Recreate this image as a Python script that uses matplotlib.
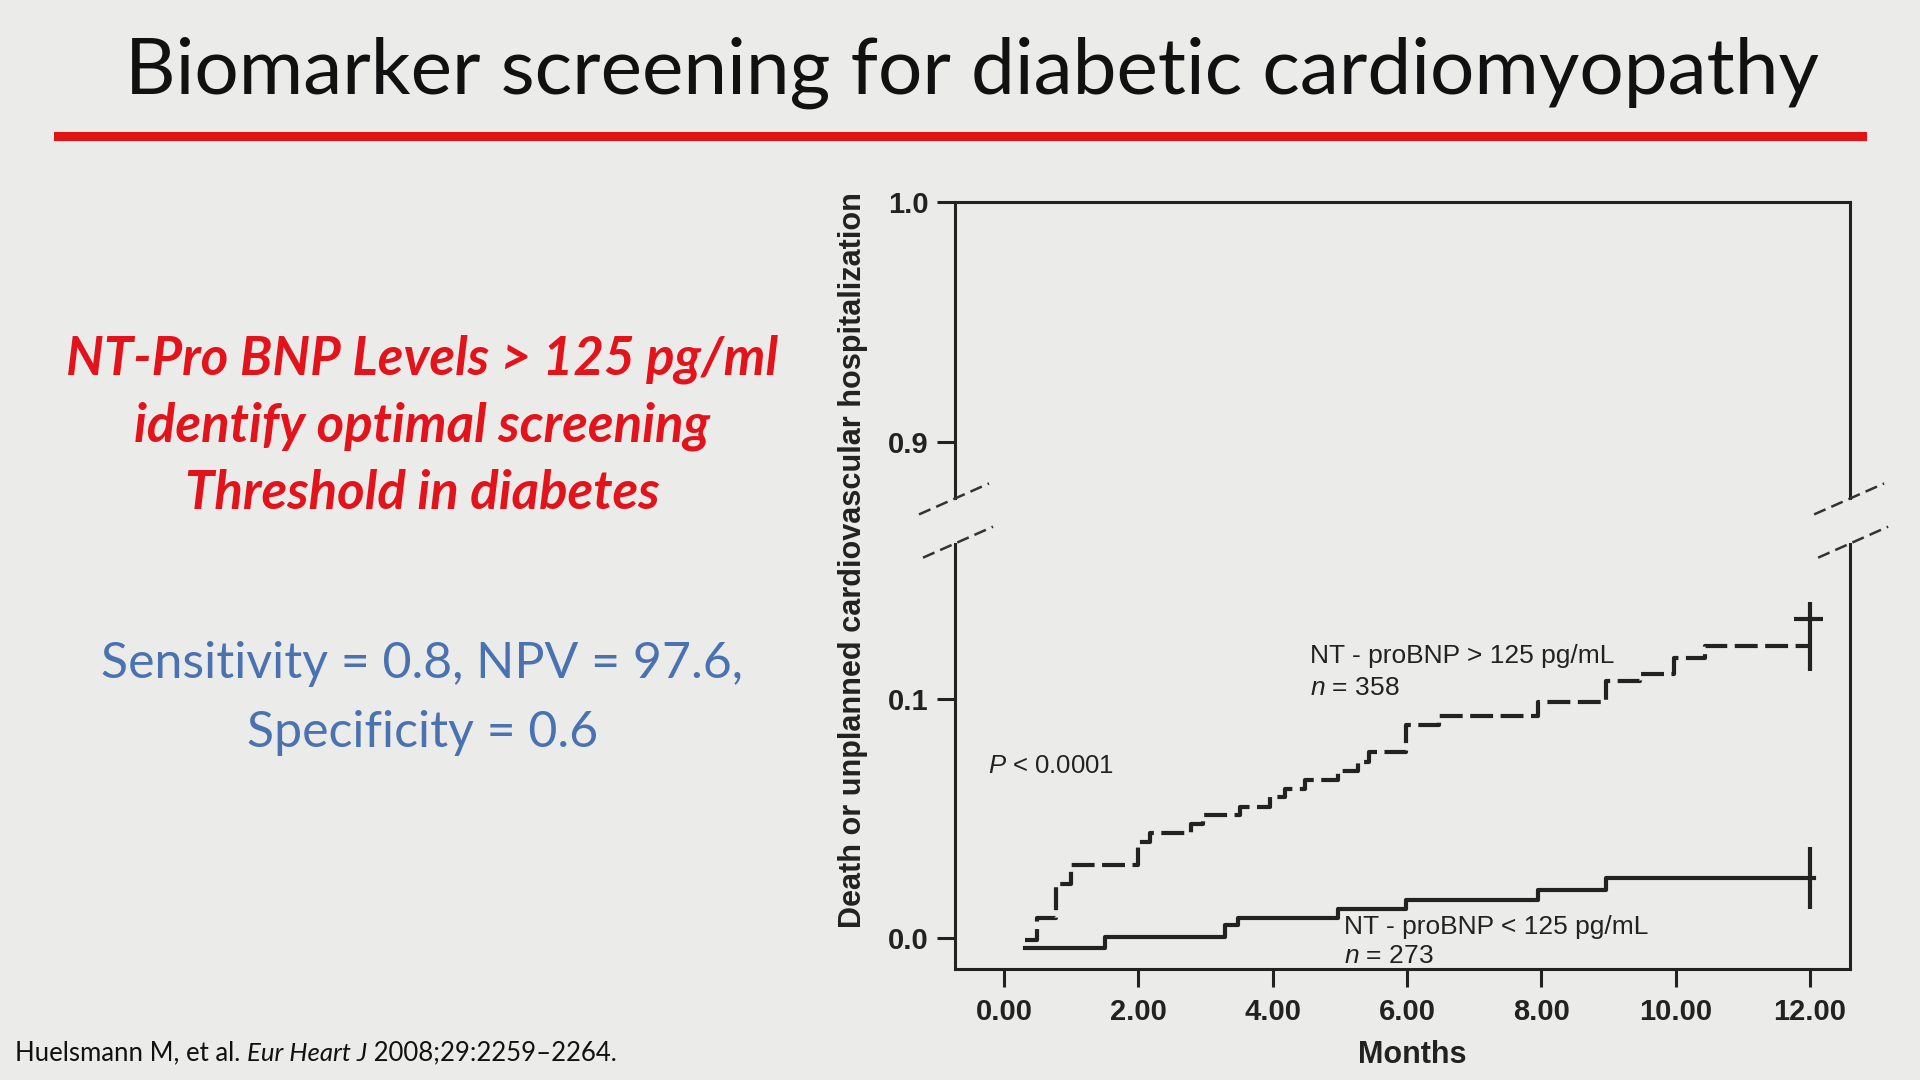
import numpy as np
import matplotlib
matplotlib.use("Agg")
import matplotlib.pyplot as plt
from matplotlib.lines import Line2D

plt.rcParams['font.family'] = ['Liberation Sans', 'DejaVu Sans']
plt.rcParams['mathtext.fontset'] = 'custom'
plt.rcParams['mathtext.rm'] = 'Liberation Sans'
plt.rcParams['mathtext.it'] = 'Liberation Sans:italic'

# Kaplan-Meier steps (months, cumulative event rate)
high_t = [0.31, 0.49, 0.77, 0.99, 2.00, 2.17, 2.78, 2.96, 3.51, 3.96, 4.18,
          4.48, 4.98, 5.27, 5.44, 5.99, 6.48, 7.95, 8.96, 9.47, 9.98, 10.44]
high_v = [-0.001, 0.0082, 0.0225, 0.0304, 0.0403, 0.0441, 0.0476, 0.0514,
          0.0549, 0.0591, 0.0624, 0.0662, 0.0701, 0.0736, 0.0778, 0.0891,
          0.0929, 0.0990, 0.1077, 0.1105, 0.1173, 0.1222]
high_end = 12.0
high_bar = (0.1116, 0.1405, 0.1334)   # low, high, cross

low_t = [0.31, 1.50, 3.29, 3.49, 4.97, 5.99, 7.95, 8.97]
low_v = [-0.004, 0.0004, 0.0054, 0.0082, 0.0121, 0.0158, 0.0200, 0.0250]
low_end = 12.06
low_bar = (0.012, 0.038)

xticks = [0, 2, 4, 6, 8, 10, 12]
xticklabels = ['0.00', '2.00', '4.00', '6.00', '8.00', '10.00', '12.00']
upper_ticks = [0.9, 1.0]
lower_ticks = [0.0, 0.1]

BG = '#ebebea'
INK = '#222222'
RED = '#e2131a'
BLUE = '#4a72b0'

fig = plt.figure(figsize=(19.2, 10.8), dpi=100, facecolor=BG)

# slide title and red rule
fig.text(0.506, 0.9136, 'Biomarker screening for diabetic cardiomyopathy',
         family='Lato', fontsize=56.5, color='#111111', ha='center', va='baseline')
fig.add_artist(Line2D([0.030, 0.970], [0.8745, 0.8745], color='#e01414', lw=6.5,
                      transform=fig.transFigure))

# left side texts
red_lines = ['NT-Pro BNP Levels > 125 pg/ml', 'identify optimal screening',
             'Threshold in diabetes']
for s, y in zip(red_lines, [0.6535, 0.5912, 0.5288]):
    fig.text(0.220, y, s, family='Lato', fontsize=38, fontweight='bold',
             style='italic', color=RED, ha='center', va='baseline')
for s, y in zip(['Sensitivity = 0.8, NPV = 97.6,', 'Specificity = 0.6'], [0.372, 0.3085]):
    fig.text(0.220, y, s, family='Lato', fontsize=36, color=BLUE,
             ha='center', va='baseline')

# citation, set piece by piece for the italic journal name
renderer = fig.canvas.get_renderer()
cx = 0.008
for s, st in [('Huelsmann M, et al. ', 'normal'), ('Eur Heart J', 'italic'),
              (' 2008;29:2259\u20132264.', 'normal')]:
    t = fig.text(cx, 0.0178, s, family='Lato', fontsize=18.5, style=st,
                 color='#111111', va='baseline')
    cx = t.get_window_extent(renderer).x1 / fig.bbox.width

# broken axis
left, width = 0.4974, 0.4662
ax_top = fig.add_axes([left, 0.5385, width, 0.2744])
ax_bot = fig.add_axes([left, 0.1032, width, 0.3934])
for ax in (ax_top, ax_bot):
    ax.set_facecolor('none')
    ax.set_xlim(-0.73, 12.6)
    for sp in ax.spines.values():
        sp.set_linewidth(2.2)
        sp.set_color(INK)
    ax.tick_params(axis='y', direction='out', length=13, width=2.2, pad=6,
                   colors=INK, labelsize=21)
    ax.tick_params(axis='x', direction='out', length=13, width=2.2, pad=8,
                   colors=INK, labelsize=21)
ax_top.set_ylim(0.8764, 1.0)
ax_bot.set_ylim(-0.0128, 0.1651)
ax_top.spines['bottom'].set_visible(False)
ax_bot.spines['top'].set_visible(False)
ax_top.set_xticks([])
ax_top.set_yticks(upper_ticks)
ax_top.set_yticklabels(['%.1f' % v for v in upper_ticks], fontweight='bold')
ax_bot.set_yticks(lower_ticks)
ax_bot.set_yticklabels(['%.1f' % v for v in lower_ticks], fontweight='bold')
ax_bot.set_xticks(xticks)
ax_bot.set_xticklabels(xticklabels, fontweight='bold')

# curves
ax_bot.plot(high_t + [high_end], high_v + [high_v[-1]], drawstyle='steps-post',
            color=INK, lw=3.0, linestyle=(0, (5.5, 1.8)), solid_capstyle='butt')
ax_bot.plot(low_t + [low_end], low_v + [low_v[-1]], drawstyle='steps-post',
            color=INK, lw=3.0)
ax_bot.vlines(high_end, high_bar[0], high_bar[1], color=INK, lw=3.0)
ax_bot.hlines(high_bar[2], high_end - 0.23, high_end + 0.2, color=INK, lw=3.0)
ax_bot.vlines(12.0, low_bar[0], low_bar[1], color=INK, lw=3.0)

# annotations
ax_bot.text(-0.24, 0.0718, '$P$ < 0.0001', fontsize=18.5, color=INK, ha='left', va='center')
ax_bot.text(4.56, 0.118, 'NT - proBNP > 125 pg/mL', fontsize=19, color=INK,
            ha='left', va='center')
ax_bot.text(4.56, 0.1046, '$n$ = 358', fontsize=19, color=INK, ha='left', va='center')
ax_bot.text(5.07, 0.0046, 'NT - proBNP < 125 pg/mL', fontsize=19, color=INK,
            ha='left', va='center')
ax_bot.text(5.07, -0.0077, '$n$ = 273', fontsize=19, color=INK, ha='left', va='center')

fig.text(0.4445, 0.4813, 'Death or unplanned cardiovascular hospitalization',
         rotation=90, fontsize=22.1, fontweight='bold', color=INK, ha='center', va='center')
fig.text(0.7353, 0.0227, 'Months', fontsize=22, fontweight='bold', color=INK,
         ha='center', va='center')

# break marks on both spines
W, H = 1920.0, 1080.0
y_up = 0.5385 * H
y_lo = 0.4966 * H
for sx in (left * W, (left + width) * W):
    for (x0, y0, x1, y1) in [(sx - 36, y_up - 16, sx + 34, y_up + 15),
                             (sx - 32, y_lo - 14, sx + 38, y_lo + 17)]:
        fig.add_artist(Line2D([x0 / W, x1 / W], [y0 / H, y1 / H], color='#333333',
                              lw=1.8, linestyle=(0, (5, 2.5)), transform=fig.transFigure))

fig.savefig('out.png', dpi=100, facecolor=BG)
